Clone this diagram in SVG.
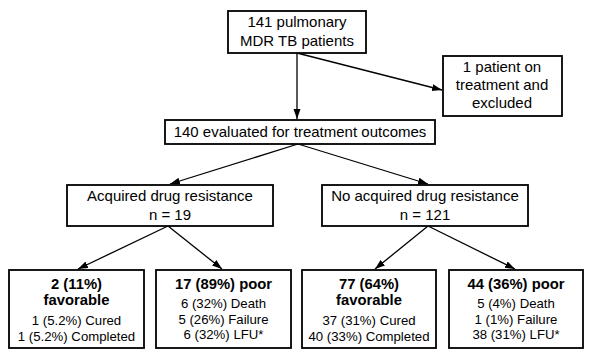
<svg xmlns="http://www.w3.org/2000/svg" width="600" height="361" viewBox="0 0 600 361">
<style>
.box{fill:#fff;stroke:#000;stroke-width:1.8}
text{font-family:"Liberation Sans",Arial,sans-serif;font-size:15px;fill:#000;text-anchor:middle}
.s{font-size:13.2px}
.b{font-weight:bold;font-size:14.8px}
.con line{stroke:#000;stroke-width:1.3;marker-end:url(#ah)}
</style>
<defs>
<marker id="ah" markerUnits="userSpaceOnUse" markerWidth="11" markerHeight="8" refX="10" refY="3.5" orient="auto">
<path d="M0,0 L10,3.5 L0,7 Z" fill="#000"/>
</marker>
</defs>
<rect width="600" height="361" fill="#fff"/>
<g class="con" id="connectors">
<line x1="297" y1="53" x2="297" y2="119"/>
<line x1="297" y1="53" x2="442" y2="90"/>
<line x1="298" y1="144" x2="170" y2="184"/>
<line x1="298" y1="144" x2="428" y2="184"/>
<line x1="168" y1="226" x2="78" y2="269"/>
<line x1="168" y1="226" x2="222" y2="269"/>
<line x1="428" y1="226" x2="375" y2="269"/>
<line x1="428" y1="226" x2="515" y2="269"/>
</g>
<g id="n-top">
<rect class="box" x="228" y="11" width="138" height="42"/>
<text x="297" y="27">141 pulmonary</text>
<text x="297" y="46">MDR TB patients</text>
</g>
<g id="n-excluded">
<rect class="box" x="443" y="56" width="119" height="60"/>
<text x="502" y="72">1 patient on</text>
<text x="502" y="90">treatment and</text>
<text x="502" y="108">excluded</text>
</g>
<g id="n-evaluated">
<rect class="box" x="165" y="120" width="270" height="24"/>
<text x="300" y="137">140 evaluated for treatment outcomes</text>
</g>
<g id="n-adr">
<rect class="box" x="67" y="185" width="206" height="41"/>
<text x="170" y="201">Acquired drug resistance</text>
<text x="170" y="220">n = 19</text>
</g>
<g id="n-noadr">
<rect class="box" x="322" y="185" width="206" height="41"/>
<text x="425" y="201">No acquired drug resistance</text>
<text x="425" y="220">n = 121</text>
</g>
<g id="n-adr-fav">
<rect class="box" x="9" y="270" width="135" height="78"/>
<text class="b" x="76.5" y="289">2 (11%)</text>
<text class="b" x="76.5" y="305">favorable</text>
<text class="s" x="76.5" y="325">1 (5.2%) Cured</text>
<text class="s" x="76.5" y="341">1 (5.2%) Completed</text>
</g>
<g id="n-adr-poor">
<rect class="box" x="156" y="270" width="135" height="78"/>
<text class="b" x="223.5" y="289">17 (89%) poor</text>
<text class="s" x="223.5" y="308">6 (32%) Death</text>
<text class="s" x="223.5" y="323.5">5 (26%) Failure</text>
<text class="s" x="223.5" y="339">6 (32%) LFU*</text>
</g>
<g id="n-noadr-fav">
<rect class="box" x="302" y="270" width="134" height="78"/>
<text class="b" x="369" y="289">77 (64%)</text>
<text class="b" x="369" y="305">favorable</text>
<text class="s" x="369" y="325">37 (31%) Cured</text>
<text class="s" x="369" y="341">40 (33%) Completed</text>
</g>
<g id="n-noadr-poor">
<rect class="box" x="449" y="270" width="134" height="78"/>
<text class="b" x="516" y="289">44 (36%) poor</text>
<text class="s" x="516" y="308">5 (4%) Death</text>
<text class="s" x="516" y="323.5">1 (1%) Failure</text>
<text class="s" x="516" y="339">38 (31%) LFU*</text>
</g>
</svg>
